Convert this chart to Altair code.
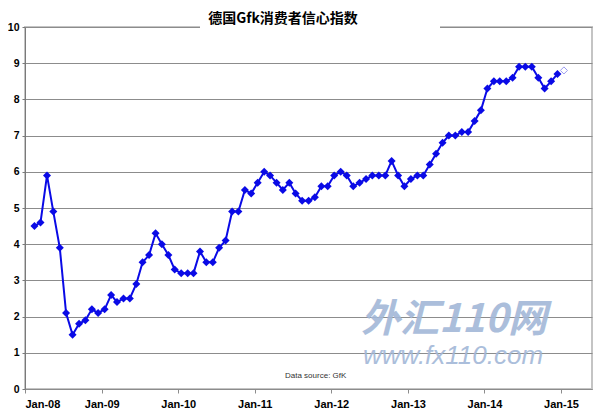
import altair as alt
import pandas as pd

title_text = "德国Gfk消费者信心指数"
source_text = "Data source: GfK"
watermark_cn = "外汇110网"
watermark_url = "www.fx110.com"

# monthly readings, Feb-08 .. Dec-14 (plotted mid-month as in the source)
index_values = [4.5, 4.6, 5.9, 4.9, 3.9, 2.1, 1.5, 1.8, 1.9, 2.2, 2.1, 2.2,
                2.6, 2.4, 2.5, 2.5, 2.9, 3.5, 3.7, 4.3, 4.0, 3.7, 3.3, 3.2,
                3.2, 3.2, 3.8, 3.5, 3.5, 3.9, 4.1, 4.9, 4.9, 5.5, 5.4, 5.7,
                6.0, 5.9, 5.7, 5.5, 5.7, 5.4, 5.2, 5.2, 5.3, 5.6, 5.6, 5.9,
                6.0, 5.9, 5.6, 5.7, 5.8, 5.9, 5.9, 5.9, 6.3, 5.9, 5.6, 5.8,
                5.9, 5.9, 6.2, 6.5, 6.8, 7.0, 7.0, 7.1, 7.1, 7.4, 7.7, 8.3,
                8.5, 8.5, 8.5, 8.6, 8.9, 8.9, 8.9, 8.6, 8.3, 8.5, 8.7]
forecast_value = 8.8  # Jan-15, hollow marker
tick_years = [2008, 2009, 2010, 2011, 2012, 2013, 2014, 2015]

months = pd.date_range("2008-02-01", periods=len(index_values) + 1, freq="MS") + pd.Timedelta(days=14)
df = pd.DataFrame({"date": months[:-1], "value": index_values})
df_fc = pd.DataFrame({"date": [months[-1]], "value": [forecast_value]})

blue = "#0a0ae6"

x_enc = alt.X("date:T", title=None,
              scale=alt.Scale(domain=[alt.DateTime(year=2008, month=1, date=1),
                                      alt.DateTime(year=2015, month=5, date=29)]),
              axis=alt.Axis(values=[alt.DateTime(year=y, month=1, date=1) for y in tick_years],
                            format="%b-%y", grid=False, tickSize=4, labelPadding=5,
                            domainColor="#8c8c8c", tickColor="#8c8c8c"))
y_enc = alt.Y("value:Q", title=None,
              scale=alt.Scale(domain=[0, 10], nice=False),
              axis=alt.Axis(values=list(range(0, 11)), grid=True, gridColor="#8c8c8c",
                            tickSize=3, labelPadding=3, labelFontSize=10.5,
                            domainColor="#7a7a7a", tickColor="#7a7a7a"))

line = alt.Chart(df).mark_line(color=blue, strokeWidth=2).encode(x=x_enc, y=y_enc)
points = alt.Chart(df).mark_point(shape="diamond", filled=True, size=64, color=blue,
                                  opacity=1).encode(x=x_enc, y=y_enc)
forecast = alt.Chart(df_fc).mark_point(shape="diamond", filled=False, size=50,
                                       fill="white", color="#9a9af0", strokeWidth=1,
                                       opacity=1).encode(x=x_enc, y=y_enc)

# white box behind the title, hiding part of the top gridline like Excel does
title_box = alt.Chart(pd.DataFrame({"t": [title_text]})).mark_rect(color="white").encode(
    x=alt.value(175), x2=alt.value(415), y=alt.value(-2), y2=alt.value(2))
title = alt.Chart(pd.DataFrame({"t": [title_text]})).mark_text(
    font="Noto Sans CJK SC", fontWeight="bold", fontSize=14, color="black",
    baseline="middle", align="center").encode(text="t:N", x=alt.value(258), y=alt.value(-8))

source = alt.Chart(pd.DataFrame({"t": [source_text]})).mark_text(
    font="Liberation Sans", fontSize=8, color="#333333", align="left",
    baseline="middle").encode(text="t:N", x=alt.value(260), y=alt.value(349))

wm_cn = alt.Chart(pd.DataFrame({"t": [watermark_cn]})).mark_text(
    font="Noto Sans CJK SC", fontWeight="bold", fontStyle="italic", fontSize=39,
    color="#a3b8d8", opacity=0.9, align="left", baseline="middle").encode(
    text="t:N", x=alt.value(336), y=alt.value(293))
wm_url = alt.Chart(pd.DataFrame({"t": [watermark_url]})).mark_text(
    font="Liberation Sans", fontStyle="italic", fontSize=26,
    color="#a3b8d8", opacity=0.9, align="left", baseline="middle").encode(
    text="t:N", x=alt.value(338), y=alt.value(329))

chart = alt.layer(wm_cn, wm_url, line, points, forecast, title_box, title, source).properties(
    width=567, height=362,
    autosize=alt.AutoSizeParams(type="none"),
    padding={"left": 17, "top": 19, "right": 8, "bottom": 20},
).configure_axis(
    labelFont="Liberation Sans", labelFontWeight="bold", labelFontSize=11,
    labelColor="black", gridWidth=1,
).configure_view(stroke="#c4c4c4", strokeWidth=2)

chart.save("out.html", embed_options={"renderer": "svg", "actions": False})
